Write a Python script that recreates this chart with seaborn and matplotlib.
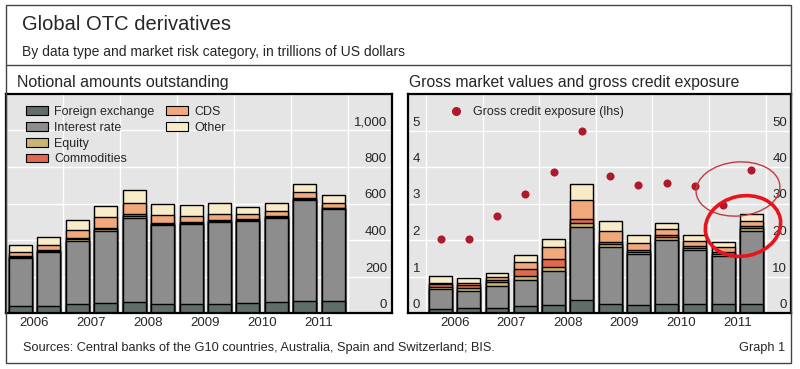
import numpy as np
import pandas as pd
import matplotlib
matplotlib.use('Agg')
import matplotlib.pyplot as plt
import seaborn as sns
from matplotlib.patches import Patch, Ellipse, Rectangle
from matplotlib.lines import Line2D
from matplotlib.transforms import offset_copy

sns.set_style('white')
plt.rcParams['font.family'] = ['Liberation Sans', 'DejaVu Sans']

periods = ['Jun 2006', 'Dec 2006', 'Jun 2007', 'Dec 2007', 'Jun 2008', 'Dec 2008',
           'Jun 2009', 'Dec 2009', 'Jun 2010', 'Dec 2010', 'Jun 2011', 'Dec 2011']
years = ['2006', '2007', '2008', '2009', '2010', '2011']
categories = ['Foreign exchange', 'Interest rate', 'Equity', 'Commodities', 'CDS', 'Other']
colors = ['#5f6e66', '#8d8d8d', '#c8b46e', '#e0694e', '#f1a97b', '#f7ebc8']

# notional amounts outstanding, USD trn
notional_fx = [38.1, 40.3, 48.6, 56.2, 62.9, 50.0, 48.7, 49.2, 53.2, 57.8, 64.7, 63.3]
notional_ir = [262.3, 291.6, 347.3, 393.1, 458.3, 432.7, 437.2, 449.9, 451.8, 465.3, 553.9, 504.1]
notional_eq = [6.8, 7.5, 8.6, 8.5, 10.2, 6.5, 6.6, 6.6, 6.3, 5.6, 6.8, 6.0]
notional_comm = [6.4, 7.1, 7.6, 8.5, 13.2, 4.4, 3.6, 2.9, 2.9, 2.9, 3.2, 3.1]
notional_cds = [20.4, 28.7, 42.6, 58.2, 57.4, 41.9, 36.0, 32.7, 30.3, 29.9, 32.4, 28.6]
notional_other = [36.2, 42.9, 53.2, 61.4, 70.7, 62.6, 62.4, 62.6, 38.3, 39.5, 46.0, 42.6]

# gross market values, USD trn (rhs)
gmv_fx = [1.14, 1.27, 1.35, 1.81, 2.26, 3.59, 2.47, 2.07, 2.54, 2.48, 2.34, 2.56]
gmv_ir = [5.44, 4.83, 6.06, 7.18, 9.26, 20.09, 15.48, 14.02, 17.53, 14.75, 13.24, 20.0]
gmv_eq = [0.67, 0.85, 1.12, 1.14, 1.15, 1.11, 0.88, 0.71, 0.71, 0.65, 0.71, 0.68]
gmv_comm = [0.72, 0.67, 0.64, 1.90, 2.21, 0.95, 0.69, 0.55, 0.46, 0.53, 0.47, 0.49]
gmv_cds = [0.29, 0.47, 0.72, 2.0, 3.19, 5.12, 2.99, 1.80, 1.67, 1.35, 1.35, 1.59]
gmv_other = [1.9, 1.6, 1.2, 1.8, 2.3, 4.44, 2.8, 2.3, 1.8, 1.5, 1.4, 1.9]

# gross credit exposure, USD trn (lhs)
credit_exposure = [2.03, 2.03, 2.67, 3.25, 3.85, 4.99, 3.74, 3.51, 3.57, 3.47, 2.95, 3.91]

notional = pd.DataFrame(dict(zip(categories, [notional_fx, notional_ir, notional_eq,
                                              notional_comm, notional_cds, notional_other])),
                        index=periods)
gmv = pd.DataFrame(dict(zip(categories, [gmv_fx, gmv_ir, gmv_eq,
                                         gmv_comm, gmv_cds, gmv_other])),
                   index=periods)

W, H = 800, 369
fig = plt.figure(figsize=(8, 3.69), dpi=100)
ax_l = fig.add_axes([6 / W, (H - 313) / H, 386 / W, 219 / H])
ax_r = fig.add_axes([408 / W, (H - 313) / H, 383 / W, 219 / H])

bar_w = 0.81
bounds = np.arange(-0.5, 12, 2)
year_pos = np.arange(0.5, 12, 2)


def stacked(ax, df):
    cum = df.cumsum(axis=1)
    for cat, col in reversed(list(zip(categories, colors))):
        sns.barplot(x=periods, y=cum[cat].values, order=periods, color=col,
                    saturation=1, width=bar_w, edgecolor='black', linewidth=1.0,
                    errorbar=None, ax=ax, zorder=2)


def style_axes(ax, ymax, step, xlim):
    ax.set_facecolor('#e5e5e5')
    ax.set_xlim(*xlim)
    ax.set_ylim(0, ymax)
    ax.set_yticks(np.arange(step, ymax, step))
    ax.set_xticks(year_pos, years)
    ax.set_xticks(bounds, minor=True)
    ax.tick_params(axis='x', which='major', length=0, pad=3, labelsize=9.5)
    ax.tick_params(axis='x', which='minor', direction='in', length=5, width=1.2, color='#8a8a8a')
    ax.grid(axis='y', which='major', color='white', lw=1)
    ax.grid(axis='x', which='minor', color='white', lw=1)
    ax.grid(axis='x', which='major', visible=False)
    ax.set_axisbelow(True)
    ax.set_xlabel('')
    ax.set_ylabel('')
    for s in ax.spines.values():
        s.set_visible(True)
        s.set_color('black')
        s.set_linewidth(1.6)


# left panel: notional amounts
stacked(ax_l, notional)
style_axes(ax_l, 1200, 200, (-0.49, 13.06))
ax_l.tick_params(axis='y', which='both', left=False, right=False,
                 labelleft=False, labelright=False)
lab_tr = offset_copy(ax_l.get_yaxis_transform(), fig=fig, x=0, y=8, units='dots')
for v in range(0, 1001, 200):
    ax_l.text(0.987, v, f'{v:,}', transform=lab_tr, ha='right', va='center', fontsize=9.5)

handles = [Patch(facecolor=c, edgecolor='black', linewidth=0.8) for c in colors]
leg_kw = dict(frameon=False, fontsize=9, handlelength=1.75, handleheight=0.7,
              handletextpad=0.5, labelspacing=0.3, borderaxespad=0, borderpad=0)
leg1 = ax_l.legend(handles[:4], categories[:4], loc='upper left',
                   bbox_to_anchor=(0.052, 0.945), **leg_kw)
ax_l.add_artist(leg1)
ax_l.legend(handles[4:], categories[4:], loc='upper left',
            bbox_to_anchor=(0.415, 0.945), **leg_kw)

# right panel: gross market values (rhs) and credit exposure (lhs)
stacked(ax_r, gmv)
style_axes(ax_r, 60, 10, (-1.15, 12.4))
ax_r2 = ax_r.twinx()
ax_r2.set_ylim(0, 6)
ax_r2.set_yticks([])
for s in ax_r2.spines.values():
    s.set_visible(False)
ax_r.tick_params(axis='y', which='both', left=False, right=False,
                 labelleft=False, labelright=False)
ax_r2.tick_params(axis='both', which='both', left=False, right=False, bottom=False, top=False,
                  labelleft=False, labelright=False)
dot_col = '#ae1a2c'
sns.scatterplot(x=np.arange(len(periods)), y=credit_exposure, color=dot_col, s=34,
                linewidth=0, ax=ax_r2, zorder=5)
ax_r2.set_xlim(-1.15, 12.4)
ax_r2.set_ylabel('')

lab_r = offset_copy(ax_r.get_yaxis_transform(), fig=fig, x=0, y=8, units='dots')
for v in range(0, 51, 10):
    ax_r.text(0.99, v, str(v), transform=lab_r, ha='right', va='center', fontsize=9.5)
    ax_r.text(0.012, v, str(v // 10), transform=lab_r, ha='left', va='center', fontsize=9.5)

ax_r2.legend([Line2D([], [], marker='o', ls='', color=dot_col, markersize=5.5)],
             ['Gross credit exposure (lhs)'], loc='upper left', bbox_to_anchor=(0.105, 0.945),
             frameon=False, fontsize=9, handlelength=1.2, handletextpad=0.8,
             borderaxespad=0, borderpad=0)

# hand-drawn red circles on the original
fig.add_artist(Ellipse((738 / 100, (H - 189) / 100), 0.84, 0.54, angle=5,
                       transform=fig.dpi_scale_trans, fill=False, ec='#c23a44', lw=1))
fig.add_artist(Ellipse((743 / 100, (H - 226) / 100), 0.76, 0.6, angle=12,
                       transform=fig.dpi_scale_trans, fill=False, ec='#e8141c', lw=2.6))

# frame and text
fig.add_artist(Rectangle((6 / W, (H - 363) / H), 785 / W, 358 / H, transform=fig.transFigure,
                         fill=False, ec='#444444', lw=1))
fig.add_artist(Line2D([6 / W, 791 / W], [(H - 65) / H] * 2, transform=fig.transFigure,
                      color='#444444', lw=1))
fig.text(22 / W, (H - 25) / H, 'Global OTC derivatives', fontsize=14.5, va='center')
fig.text(22 / W, (H - 52) / H, 'By data type and market risk category, in trillions of US dollars',
         fontsize=10, va='center')
fig.text(17 / W, (H - 82) / H, 'Notional amounts outstanding', fontsize=11.5, va='center')
fig.text(409 / W, (H - 82) / H, 'Gross market values and gross credit exposure',
         fontsize=11.3, va='center')
fig.text(23 / W, (H - 348) / H,
         'Sources: Central banks of the G10 countries, Australia, Spain and Switzerland; BIS.',
         fontsize=9.2, va='center')
fig.text(785 / W, (H - 348) / H, 'Graph 1', fontsize=9.2, va='center', ha='right')

fig.savefig('out.png', dpi=100)
